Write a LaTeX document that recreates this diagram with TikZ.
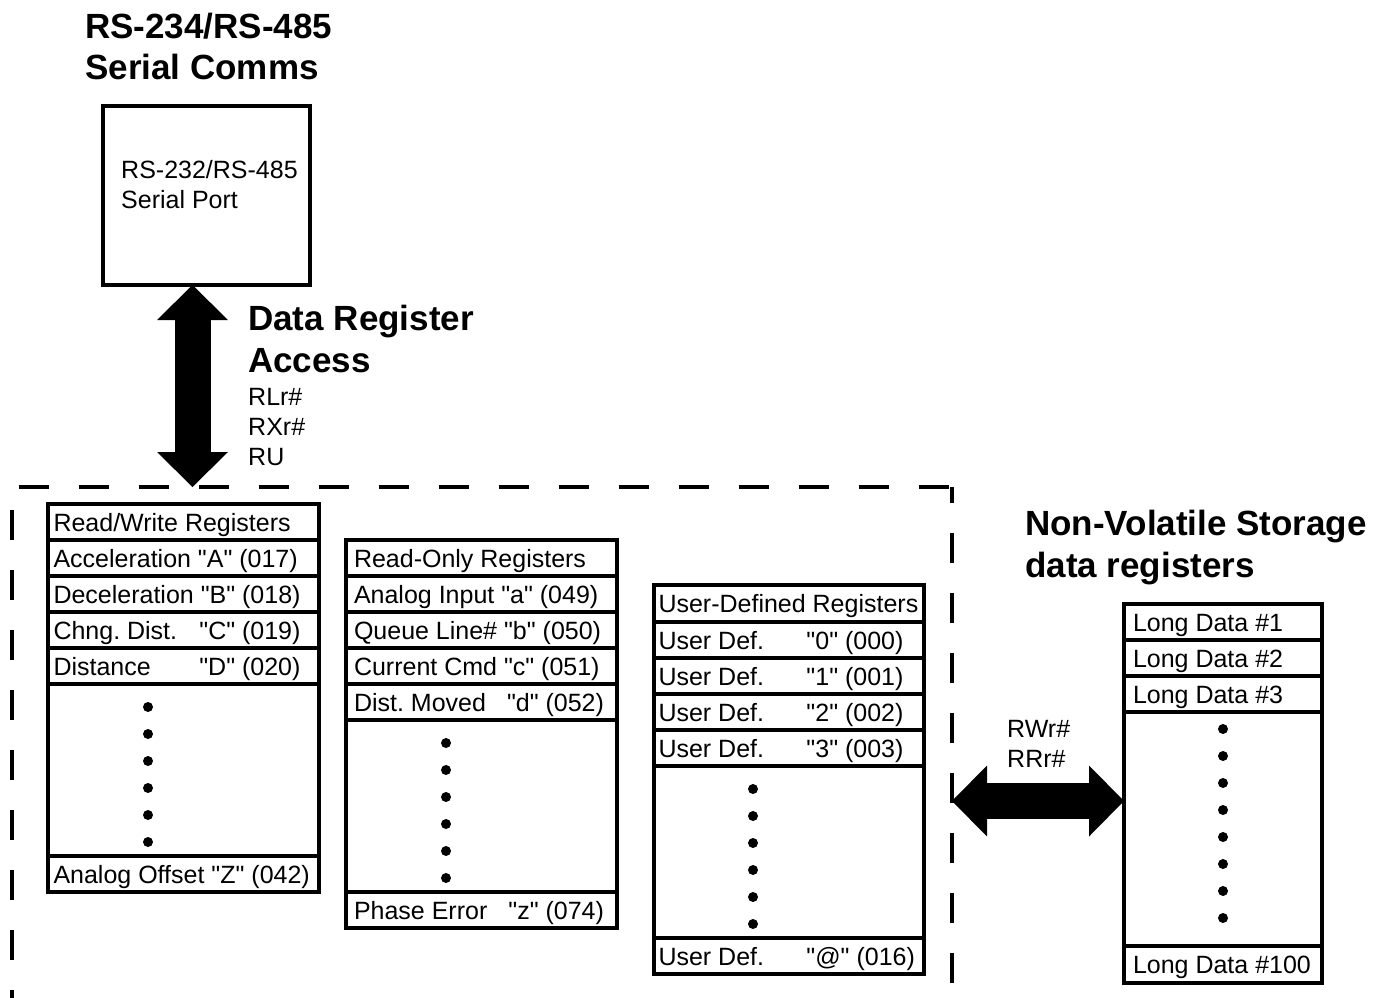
\documentclass[tikz,border=0pt]{standalone}
\usepackage{fontspec}
\setmainfont{Liberation Sans}[Ligatures=TeXOff]
\usepackage{tikz}
\usetikzlibrary{arrows.meta}
\usetikzlibrary{calc}
\frenchspacing

\begin{document}
\begin{tikzpicture}[
        x=1pt, y=-1pt,
        font=\fontsize{25}{30}\selectfont,
        head/.style={font=\fontsize{35}{42}\selectfont\bfseries, anchor=base west, inner sep=0pt, align=left},
        note/.style={anchor=base west, inner sep=0pt, align=left},
        row/.style={draw, line width=4pt, outer sep=0pt, anchor=north west, inner ysep=0pt,
            text height=20pt, text depth=2pt, minimum height=36pt,
            execute at begin node={\hbox to #1\bgroup}, execute at end node={\hfil\egroup}},
        rwrow/.style={row=260pt, inner xsep=5.5pt},
        rorow/.style={row=255pt, inner xsep=8pt},
        udrow/.style={row=261pt, inner xsep=4.5pt},
        ldrow/.style={row=180pt, inner xsep=9pt},
        dot/.style={fill, circle, inner sep=0pt, minimum size=10pt},
        dashbox/.style={line width=4pt, dash pattern=on 30pt off 30pt},
        bigarrow/.style={line width=36pt,
            {Triangle[length=35pt 0 0, width=71pt 0 0, line width=0pt 0 0]}-{Triangle[length=35pt 0 0, width=71pt 0 0, line width=0pt 0 0]}}
    ]
        \useasboundingbox (0,0) rectangle (1386,998);

        % --- Puerto serie ---
        \node[head] (title) at (85,80) {RS-234/RS-485\\Serial Comms};
        \node[draw, line width=4.5pt, minimum width=207pt, minimum height=179pt,
            inner sep=0pt, outer sep=0pt] (port) at (206.5,195.5) {};
        \node[note] (porttext) at (121,208) {RS-232/RS-485\\Serial Port};

        % --- Acceso a los registros ---
        \node[head] (access) at (248,372) {Data Register\\Access};
        \node[note] (acccmd) at (248,465) {RLr\#\\RXr\#\\RU};

        % --- Zona de registros (linea discontinua) ---
        \draw[dashbox, dash phase=22pt] (12,998) -- (12,487) -- (952,487);
        \draw[dashbox, dash phase=14pt] (952,487) -- (952,998);

        % --- Registros de lectura/escritura ---
        \node[rwrow] (rw0) at (48,504) {Read/Write Registers};
        \node[rwrow] (rw1) at (48,540) {Acceleration "A" (017)};
        \node[rwrow] (rw2) at (48,576) {Deceleration "B" (018)};
        \node[rwrow] (rw3) at (48,612) {\makebox[247pt][l]{Chng. Dist.\hfill"C" (019)}};
        \node[rwrow] (rw4) at (48,648) {\makebox[247pt][l]{Distance\hfill"D" (020)}};
        \node[rwrow, minimum height=172pt] (rwdots) at (48,684) {};
        \node[rwrow] (rw5) at (48,856) {Analog Offset "Z" (042)};
        \foreach \k in {0,...,5}
            \node[dot] (rwdot\k) at (148,{707+27*\k}) {};

        % --- Registros de solo lectura ---
        \node[rorow] (ro0) at (346,540) {Read-Only Registers};
        \node[rorow] (ro1) at (346,576) {Analog Input "a" (049)};
        \node[rorow] (ro2) at (346,612) {Queue Line\# "b" (050)};
        \node[rorow] (ro3) at (346,648) {Current Cmd "c" (051)};
        \node[rorow] (ro4) at (346,684) {\makebox[250pt][l]{Dist. Moved\hfill"d" (052)}};
        \node[rorow, minimum height=172pt] (rodots) at (346,720) {};
        \node[rorow] (ro5) at (346,892) {\makebox[250pt][l]{Phase Error\hfill"z" (074)}};
        \foreach \k in {0,...,5}
            \node[dot] (rodot\k) at (446,{743+27*\k}) {};

        % --- Registros definidos por el usuario ---
        \node[udrow, minimum height=37pt] (ud0) at (654,585) {User-Defined Registers};
        \node[udrow] (ud1) at (654,622) {\makebox[148pt][l]{User Def.}"0" (000)};
        \node[udrow] (ud2) at (654,658) {\makebox[148pt][l]{User Def.}"1" (001)};
        \node[udrow] (ud3) at (654,694) {\makebox[148pt][l]{User Def.}"2" (002)};
        \node[udrow] (ud4) at (654,730) {\makebox[148pt][l]{User Def.}"3" (003)};
        \node[udrow, minimum height=172pt] (uddots) at (654,766) {};
        \node[udrow] (ud5) at (654,938) {\makebox[148pt][l]{User Def.}"@" (016)};
        \foreach \k in {0,...,5}
            \node[dot] (uddot\k) at (753,{789+27*\k}) {};

        % --- Almacenamiento no volatil ---
        \node[head] (nvs) at (1025,577) {Non-Volatile Storage\\data registers};
        \node[ldrow] (ld0) at (1124,604) {Long Data \#1};
        \node[ldrow] (ld1) at (1124,640) {Long Data \#2};
        \node[ldrow] (ld2) at (1124,676) {Long Data \#3};
        \node[ldrow, minimum height=234pt] (lddots) at (1124,712) {};
        \node[ldrow, minimum height=37pt] (ld3) at (1124,946) {Long Data \#100};
        \foreach \k in {0,...,7}
            \node[dot] (lddot\k) at (1223,{729+27*\k}) {};
        \node[note] (nvscmd) at (1007,767) {RWr\#\\RRr\#};

        % --- Flechas de acceso ---
        \coordinate (busin) at (192.5,487);
        \draw[bigarrow] (busin |- port.south) -- (busin);
        \coordinate (nvsin) at (952,801);
        \draw[bigarrow] (nvsin) -- (nvsin -| lddots.west);

    \end{tikzpicture}
\end{document}
